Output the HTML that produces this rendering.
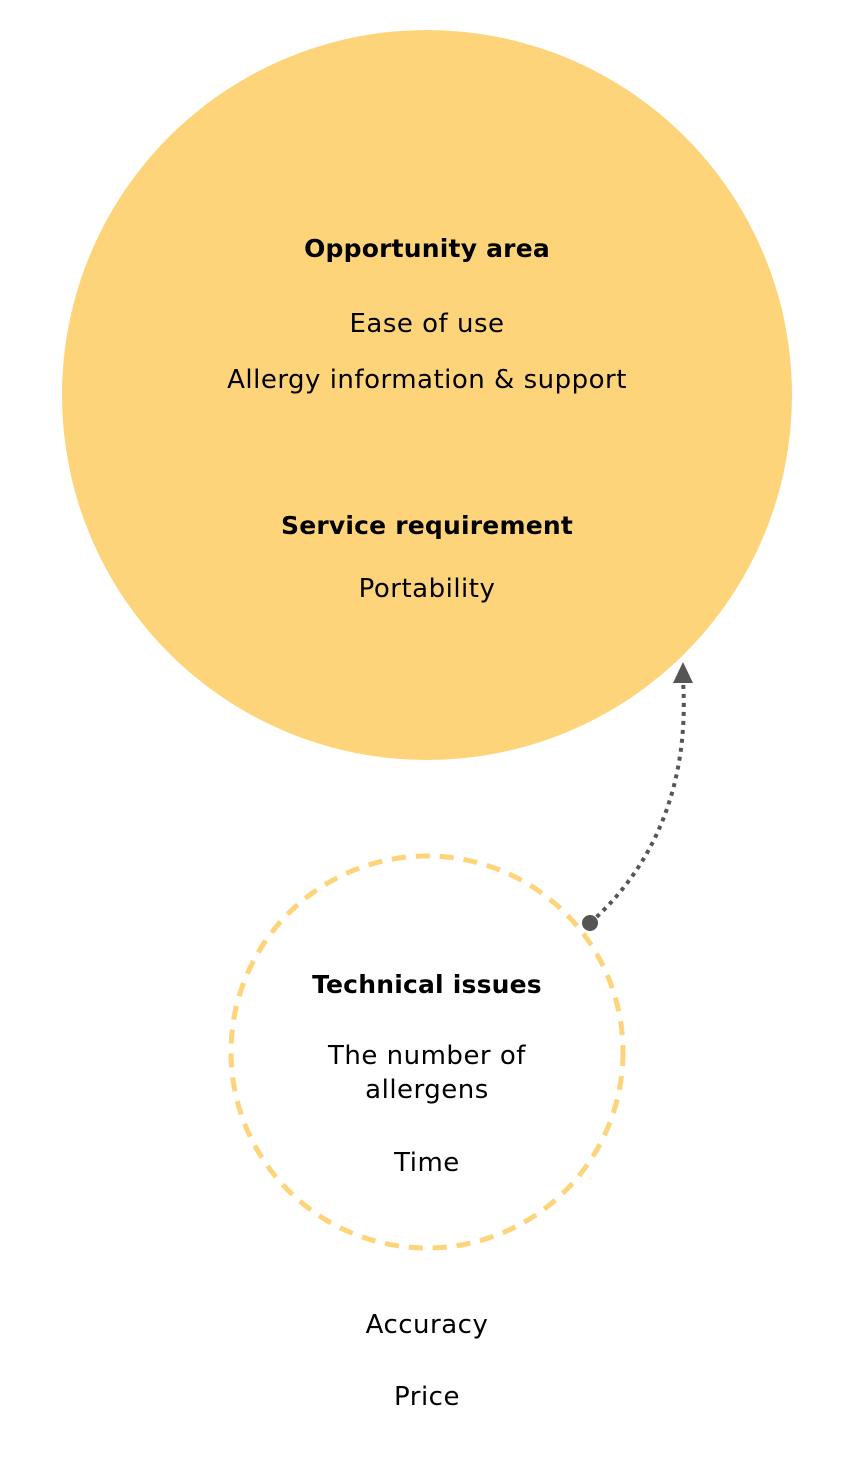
<!DOCTYPE html>
<html><head><meta charset="utf-8"><style>
html,body{margin:0;padding:0;background:#fff;}
body{width:853px;height:1460px;overflow:hidden;}
text{font-family:"DejaVu Sans","Liberation Sans",sans-serif;font-size:26px;letter-spacing:0.5px;fill:#000;}
.b{font-weight:bold;font-size:25px;letter-spacing:0.2px;}
</style></head><body>
<svg width="853" height="1460" viewBox="0 0 853 1460" xmlns="http://www.w3.org/2000/svg">
<circle cx="427" cy="395" r="365" fill="#fed47a"/>
<circle cx="427" cy="1052" r="196" fill="none" stroke="#fed47a" stroke-width="5" stroke-dasharray="14,10"/>
<path d="M590,923 C650,870 690,790 683,680" fill="none" stroke="#555" stroke-width="4" stroke-dasharray="4,5"/>
<polygon points="683,662 673,683 693,683" fill="#555"/>
<circle cx="590" cy="923" r="8" fill="#555"/>
<g text-anchor="middle">
<text x="427" y="257" class="b">Opportunity area</text>
<text x="427" y="332">Ease of use</text>
<text x="427" y="388">Allergy information &amp; support</text>
<text x="427" y="534" class="b">Service requirement</text>
<text x="427" y="597">Portability</text>
<text x="427" y="993" class="b">Technical issues</text>
<text x="427" y="1064">The number of</text>
<text x="427" y="1098">allergens</text>
<text x="427" y="1171">Time</text>
<text x="427" y="1333">Accuracy</text>
<text x="427" y="1405">Price</text>
</g>
</svg>
</body></html>
